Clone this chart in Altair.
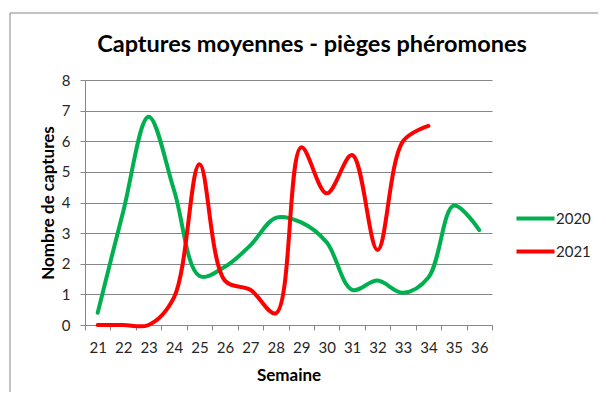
import altair as alt
import pandas as pd

weeks_2020 = list(range(21, 37))
captures_2020 = [0.4, 3.7, 6.8, 4.4, 1.6, 1.9, 2.6, 3.5, 3.35, 2.7, 1.15, 1.45, 1.05, 1.55, 3.9, 3.1]
weeks_2021 = list(range(21, 35))
captures_2021 = [0, 0, 0, 0.9, 5.25, 1.45, 1.15, 0.38, 5.8, 4.3, 5.55, 2.45, 6.0, 6.5]
series = ["2020", "2021"]
colors = ["#00B050", "#FF0000"]
y_ticks = [0, 1, 2, 3, 4, 5, 6, 7, 8]
title_text = "Captures moyennes - pièges phéromones"

rows = []
for w, v in zip(weeks_2020, captures_2020):
    rows.append({"Semaine": w, "Captures": v, "Année": "2020"})
for w, v in zip(weeks_2021, captures_2021):
    rows.append({"Semaine": w, "Captures": v, "Année": "2021"})
df = pd.DataFrame(rows)

FONT = "Lato"
GRAY = "#868686"
TXT = "#262626"

lines = alt.Chart(df).mark_line(
    strokeWidth=4, interpolate="catmull-rom", strokeCap="round", strokeJoin="round"
).encode(
    x=alt.X(
        "Semaine:O",
        title="Semaine",
        scale=alt.Scale(type="band", paddingInner=0, paddingOuter=0),
        axis=alt.Axis(
            labelAngle=0, tickBand="extent", domainColor=GRAY, tickColor=GRAY,
            tickSize=5, labelFont=FONT, labelFontSize=15, labelColor=TXT,
            labelPadding=10, titleFont=FONT, titleFontSize=17, titleFontWeight="bold",
            titleColor="#000000", titlePadding=12, grid=False,
        ),
    ),
    y=alt.Y(
        "Captures:Q",
        title="Nombre de captures",
        scale=alt.Scale(domain=[0, 8], nice=False),
        axis=alt.Axis(
            values=y_ticks, domainColor=GRAY, tickColor=GRAY, tickSize=5,
            gridColor=GRAY, gridWidth=1, labelFont=FONT, labelFontSize=15,
            labelColor=TXT, labelPadding=10, titleFont=FONT, titleFontSize=17,
            titleFontWeight="bold", titleColor="#000000", titlePadding=4,
        ),
    ),
    color=alt.Color(
        "Année:N",
        scale=alt.Scale(domain=series, range=colors),
        legend=alt.Legend(
            title=None, orient="none", legendX=439, legendY=127,
            symbolType="M-2,0H2", symbolSize=361, symbolStrokeWidth=4,
            labelFont=FONT, labelFontSize=15, labelColor=TXT, labelOffset=9,
            rowPadding=13,
        ),
    ),
)

border = alt.Chart(pd.DataFrame({"a": [0]})).mark_rect(
    fill="#ffffff", fillOpacity=0, stroke=GRAY, strokeWidth=1
).encode(
    x=alt.value(-75), x2=alt.value(540), y=alt.value(-67), y2=alt.value(340)
)

title = alt.Chart(pd.DataFrame({"t": [title_text]})).mark_text(
    font=FONT, fontSize=23.5, fontWeight="bold", color="#000000",
    align="center", baseline="alphabetic",
).encode(text="t:N", x=alt.value(227), y=alt.value(-28))

chart = alt.layer(border, lines, title).properties(
    width=407,
    height=245,
    autosize=alt.AutoSizeParams(type="none"),
    padding={"left": 77, "top": 72, "right": 106, "bottom": 67},
).configure_view(stroke=None)

chart.save("out.html", embed_options={"renderer": "svg", "actions": False})
